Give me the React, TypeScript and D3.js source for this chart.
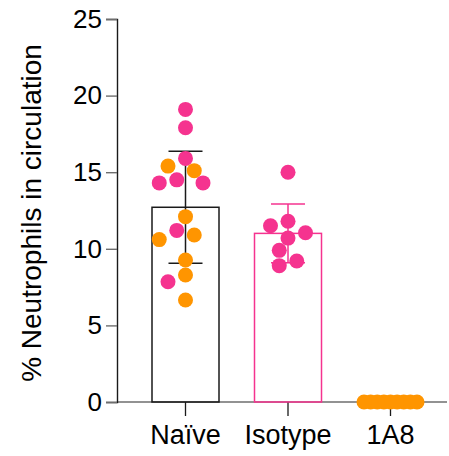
import React, { useEffect, useRef } from 'react';
import * as d3 from 'd3';

// categories and values
const categories = ['Naïve', 'Isotype', '1A8'];
const naiveValues = [19.1, 17.9, 15.9, 15.4, 15.1, 14.5, 14.3, 14.3, 12.1, 11.2, 10.9, 10.6, 9.27, 8.29, 7.85, 6.66];
const naiveCohort = ['b', 'b', 'b', 'a', 'a', 'b', 'b', 'b', 'a', 'b', 'a', 'a', 'a', 'a', 'b', 'a'];
const isotypeValues = [15.0, 11.5, 11.8, 11.05, 10.7, 9.9, 8.9, 9.2];
const isotypeCohort = ['b', 'b', 'b', 'b', 'b', 'b', 'b', 'b'];
const a1a8Values = [0, 0, 0, 0, 0, 0, 0, 0, 0];
const a1a8Cohort = ['a', 'a', 'a', 'a', 'a', 'a', 'a', 'a', 'a'];
const yTicks = [0, 5, 10, 15, 20, 25];

const PINK = '#F5338F';
const ORANGE = '#FF9500';

// simple greedy beeswarm, returns x offsets for each value
function swarm(vals: number[], y: (v: number) => number, r: number, step: number, maxHalf: number) {
  const order = vals.map((_, i) => i).sort((a, b) => vals[b] - vals[a]);
  const placed: { x: number; y: number }[] = [];
  const off = new Array(vals.length).fill(0);
  for (const i of order) {
    const py = y(vals[i]);
    for (let k = 0; k < 400; k++) {
      const c = k === 0 ? 0 : (k % 2 ? -Math.ceil(k / 2) * step : Math.ceil(k / 2) * step);
      if (placed.every(p => Math.hypot(p.x - c, p.y - py) >= 2 * r - 0.5)) {
        off[i] = c;
        placed.push({ x: c, y: py });
        break;
      }
    }
  }
  const ext = d3.max(off, (o: number) => Math.abs(o)) || 0;
  const s = ext > maxHalf ? maxHalf / ext : 1;
  return off.map(o => o * s);
}

const App = () => {
  const ref = useRef<SVGSVGElement>(null);

  useEffect(() => {
    const svg = d3.select(ref.current);
    svg.selectAll('*').remove();

    const y = d3.scaleLinear().domain([0, 25]).range([402, 19]);
    const x = d3.scalePoint().domain(categories).range([185.5, 390.5]);
    const barW = 67;
    const capW = 34;
    const r = 7.5;

    const groups = [
      { name: 'Naïve', values: naiveValues, cohort: naiveCohort, stroke: '#1a1a1a' },
      { name: 'Isotype', values: isotypeValues, cohort: isotypeCohort, stroke: PINK },
      { name: '1A8', values: a1a8Values, cohort: a1a8Cohort, stroke: ORANGE },
    ];
    const color = (c: string) => (c === 'a' ? ORANGE : PINK);
    const font = 'Liberation Sans, Arial, sans-serif';

    // x axis
    svg.append('line')
      .attr('x1', 117).attr('x2', 447).attr('y1', y(0)).attr('y2', y(0))
      .attr('stroke', '#6e6e6e').attr('stroke-width', 1.5);
    categories.forEach(c => {
      svg.append('line')
        .attr('x1', x(c)!).attr('x2', x(c)!).attr('y1', y(0)).attr('y2', y(0) + 14)
        .attr('stroke', '#1a1a1a').attr('stroke-width', 1.3);
      svg.append('text')
        .attr('x', x(c)!).attr('y', 444)
        .attr('text-anchor', 'middle')
        .attr('font-family', font).attr('font-size', 27)
        .text(c);
    });

    // y axis
    const ya = svg.append('g').attr('transform', 'translate(117,0)')
      .call(d3.axisLeft(y).tickValues(yTicks).tickSize(11).tickPadding(4).tickFormat(d3.format('d')));
    ya.select('.domain').attr('stroke', '#1a1a1a').attr('stroke-width', 1.4);
    ya.selectAll('.tick line').attr('stroke', '#6e6e6e').attr('stroke-width', 1.4);
    ya.selectAll('.tick text').attr('font-family', font).attr('font-size', 26).attr('fill', '#000');

    svg.append('text')
      .attr('transform', `translate(41,213) rotate(-90)`)
      .attr('text-anchor', 'middle')
      .attr('font-family', font).attr('font-size', 28)
      .text('% Neutrophils in circulation');

    groups.forEach(g => {
      const cx = x(g.name)!;
      const mean = d3.mean(g.values)!;
      const sd = d3.deviation(g.values) || 0;
      // bar
      svg.append('rect')
        .attr('x', cx - barW / 2).attr('y', y(mean))
        .attr('width', barW).attr('height', y(0) - y(mean))
        .attr('fill', 'none').attr('stroke', g.stroke).attr('stroke-width', 1.5);
      // error bar
      const lo = y(mean - sd);
      const hi = y(mean + sd);
      svg.append('line').attr('x1', cx).attr('x2', cx).attr('y1', hi).attr('y2', lo)
        .attr('stroke', g.stroke).attr('stroke-width', 1.5);
      [hi, lo].forEach(v => {
        svg.append('line').attr('x1', cx - capW / 2).attr('x2', cx + capW / 2).attr('y1', v).attr('y2', v)
          .attr('stroke', g.stroke).attr('stroke-width', 1.5);
      });
    });

    groups.forEach(g => {
      const cx = x(g.name)!;
      const offs = swarm(g.values, y, r, 8.75, 26.5);
      svg.append('g').selectAll('circle')
        .data(g.values)
        .enter()
        .append('circle')
        .attr('cx', (d, i) => cx + offs[i])
        .attr('cy', d => y(d))
        .attr('r', r)
        .attr('fill', (d, i) => color(g.cohort[i]));
    });
  }, []);

  return (
    <svg ref={ref} width={449} height={456} style={{ position: 'absolute', left: 0, top: 0, background: '#fff' }} />
  );
};

export default App;
